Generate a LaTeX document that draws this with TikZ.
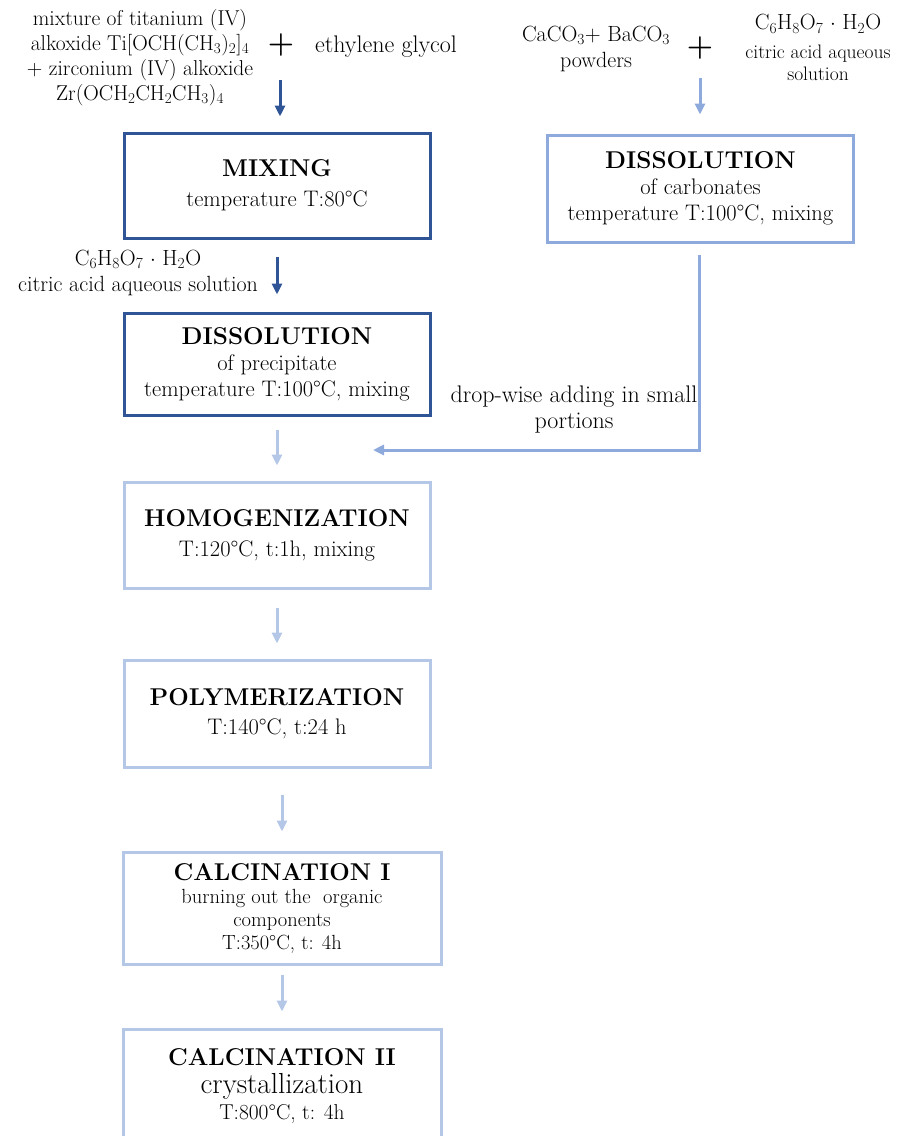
\documentclass[tikz,border=0pt]{standalone}
\usepackage{fontspec}
\usetikzlibrary{arrows.meta,calc}
\definecolor{dkb}{HTML}{2F5597}
\definecolor{mdb}{HTML}{8EA9DB}
\definecolor{ltb}{HTML}{B4C7E7}
\newcommand{\ttlfont}{\fontsize{24.3}{28}\selectfont\bfseries}
\begin{document}
\begin{tikzpicture}[x=1pt,y=-1pt,
  box/.style={draw, line width=3, minimum width=306, minimum height=105, align=center, inner sep=0, font=\fontsize{22.5}{26}\selectfont},
  lbl/.style={align=center, inner sep=0, font=\fontsize{21.5}{25}\selectfont},
  pls/.style={font=\fontsize{30}{30}\selectfont\bfseries, inner sep=0},
  arr/.style={line width=3, -{Triangle[length=11,width=10]}}]
\useasboundingbox (0,0) rectangle (900,1136);
% boxes
\node[box,draw=dkb] (mix) at (277,185.5) {{\ttlfont MIXING}\\[4pt]temperature T:80°C};
\node[box,draw=mdb,minimum height=107] (dissR) at (700.5,188.5) {{\ttlfont DISSOLUTION}\\of carbonates\\temperature T:100°C, mixing};
\node[box,draw=dkb,minimum height=102] (dissL) at (277,364) {{\ttlfont DISSOLUTION}\\of precipitate\\temperature T:100°C, mixing};
\node[box,draw=ltb,minimum height=106] (hom) at (277,535) {{\ttlfont HOMOGENIZATION}\\[4pt]T:120°C, t:1h, mixing};
\node[box,draw=ltb,minimum height=107] (pol) at (277,713.5) {{\ttlfont POLYMERIZATION}\\[3pt]T:140°C, t:24 h};
\node[box,draw=ltb,minimum width=318,minimum height=112,font=\fontsize{20.5}{23}\selectfont] (cal1) at (282,908) {{\ttlfont CALCINATION I}\\burning out the\ \ organic\\components\\T:350°C, t: 4h};
\node[box,draw=ltb,minimum width=318,minimum height=114,font=\fontsize{21.5}{26}\selectfont] (cal2) at (282,1086) {{\ttlfont CALCINATION II}\\[2pt]{\fontsize{29}{30}\selectfont crystallization}\\T:800°C, t: 4h};
% top-left inputs
\node[lbl] (ti) at (140,58) {mixture of titanium (IV)\\alkoxide Ti[OCH(CH\textsubscript{3})\textsubscript{2}]\textsubscript{4}\\+ zirconium (IV) alkoxide\\Zr(OCH\textsubscript{2}CH\textsubscript{2}CH\textsubscript{3})\textsubscript{4}};
\node[pls] (plus1) at (281,45) {+};
\node[lbl, font=\fontsize{24}{25}\selectfont] (eg) at (386,47) {ethylene glycol};
% top-right inputs
\node[lbl, font=\fontsize{22}{26}\selectfont] (carb) at (596,49) {CaCO\textsubscript{3}+ BaCO\textsubscript{3}\\powders};
\node[pls] (plus2) at (700,48) {+};
\node[lbl, font=\fontsize{22}{26}\selectfont] (ca1) at (818,24) {C\textsubscript{6}H\textsubscript{8}O\textsubscript{7} $\cdot$ H\textsubscript{2}O};
\node[lbl, font=\fontsize{19.5}{22}\selectfont] (ca1b) at (818,63) {citric acid aqueous\\solution};
% middle-left input
\node[lbl, font=\fontsize{22}{26}\selectfont] (ca2) at (138,273) {C\textsubscript{6}H\textsubscript{8}O\textsubscript{7} $\cdot$ H\textsubscript{2}O\\citric acid aqueous solution};
% drop-wise label
\node[lbl, font=\fontsize{24}{26}\selectfont] (drop) at (574,410) {drop-wise adding in small\\portions};
% connectors
\coordinate (a1) at (280,80);
\draw[arr,dkb,shorten >=15] (a1) -- (a1 |- mix.north);
\draw[arr,dkb,shorten <=17,shorten >=17] (mix.south) -- (dissL.north);
\coordinate (a2) at (700,78);
\draw[arr,mdb,shorten >=19] (a2) -- (a2 |- dissR.north);
\coordinate (r1) at (699,255);
\coordinate (r2) at (699,450);
\coordinate (r3) at (373,450);
\draw[arr,mdb] (r1) -- (r2) -- (r3);
\draw[arr,ltb,shorten <=13,shorten >=15] (dissL.south) -- (hom.north);
\draw[arr,ltb,shorten <=18,shorten >=15] (hom.south) -- (pol.north);
\draw[arr,ltb,shorten <=26,shorten >=19] (pol.south -| cal1.north) -- (cal1.north);
\draw[arr,ltb,shorten <=9,shorten >=16] (cal1.south) -- (cal2.north);
\end{tikzpicture}
\end{document}
